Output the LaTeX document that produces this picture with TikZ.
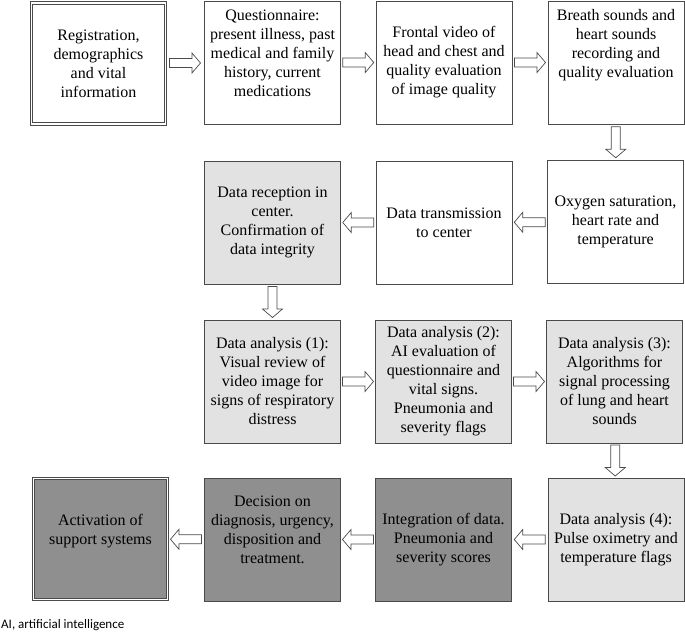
\documentclass[tikz,border=0pt]{standalone}
\usepackage{fontspec}
\setmainfont{Liberation Serif}
\newfontfamily\notefont{Carlito}
\usetikzlibrary{calc}

\definecolor{lightfill}{HTML}{E2E2E2}
\definecolor{darkfill}{HTML}{8F8F8F}
\definecolor{edge}{HTML}{4A4A4A}

\tikzset{
  box/.style={draw=edge, line width=0.9pt, minimum width=136pt, minimum height=123pt,
    inner sep=0pt, align=center, font=\fontsize{16}{19}\selectfont},
  boxdouble/.style={box, double, double distance=1.4pt, line width=0.9pt,
    minimum width=134pt, minimum height=121pt},
  hollow/.style={draw=edge, line width=0.7pt, fill=white}
}

% block arrow half way between two anchors, turned by #3
\newcommand{\flowarrow}[3]{%
  \draw[hollow, shift={($(#1)!0.5!(#2)$)}, rotate=#3]
    (-15.5,-4.5) -- (7,-4.5) -- (7,-10) -- (15.5,0) -- (7,10) -- (7,4.5) -- (-15.5,4.5) -- cycle;}

\begin{document}
\begin{tikzpicture}[x=1pt, y=-1pt]
    \useasboundingbox (0,0) rectangle (685,633);

    \node[boxdouble] (reg) at (98.5,63.5) {Registration,\\ demographics\\ and vital\\ information};
    \node[box] (quest) at (272.5,62.5) {Questionnaire:\\ present illness, past\\ medical and family\\ history, current\\ medications\\ \mbox{}};
    \node[box] (video) at (444,62.5) {Frontal video of\\ head and chest and\\ quality evaluation\\ of image quality};
    \node[box] (sound) at (616,62.5) {Breath sounds and\\ heart sounds\\ recording and\\ quality evaluation\\ \mbox{}\\ \mbox{}};

    \node[box] (oxy) at (615.5,222) {Oxygen saturation,\\ heart rate and\\ temperature};
    \node[box] (send) at (444,222.5) {Data transmission\\ to center};
    \node[box, fill=lightfill] (recv) at (272.5,222.5) {Data reception in\\ center.\\ Confirmation of\\ data integrity};

    \node[box, fill=lightfill] (ana1) at (272.5,381.5) {Data analysis (1):\\ Visual review of\\ video image for\\ signs of respiratory\\ distress};
    \node[box, fill=lightfill] (ana2) at (443.5,381.5) {Data analysis (2):\\ AI evaluation of\\ questionnaire and\\ vital signs.\\ Pneumonia and\\ severity flags};
    \node[box, fill=lightfill] (ana3) at (614.5,381.5) {Data analysis (3):\\ Algorithms for\\ signal processing\\ of lung and heart\\ sounds};

    \node[box, fill=lightfill] (ana4) at (616,539.5) {Data analysis (4):\\ Pulse oximetry and\\ temperature flags};
    \node[box, fill=darkfill] (merge) at (443.5,539.5) {Integration of data.\\ Pneumonia and\\ severity scores};
    \node[box, fill=darkfill] (decide) at (272.5,539.5) {Decision on\\ diagnosis, urgency,\\ disposition and\\ treatment.\\ \mbox{}};
    \node[boxdouble, fill=darkfill] (act) at (100.5,539) {Activation of\\ support systems\\ \mbox{}};

    \node[anchor=west, inner sep=0pt, font=\notefont\fontsize{13}{15}\selectfont] (note) at (1,625) {AI, artificial intelligence};

    \flowarrow{reg.east}{quest.west}{0}
    \flowarrow{quest.east}{video.west}{0}
    \flowarrow{video.east}{sound.west}{0}
    \flowarrow{sound.south}{oxy.north}{-90}
    \flowarrow{oxy.west}{send.east}{180}
    \flowarrow{send.west}{recv.east}{180}
    \flowarrow{recv.south}{ana1.north}{-90}
    \flowarrow{ana1.east}{ana2.west}{0}
    \flowarrow{ana2.east}{ana3.west}{0}
    \flowarrow{ana3.south}{ana4.north}{-90}
    \flowarrow{ana4.west}{merge.east}{180}
    \flowarrow{merge.west}{decide.east}{180}
    \flowarrow{decide.west}{act.east}{180}
\end{tikzpicture}
\end{document}
